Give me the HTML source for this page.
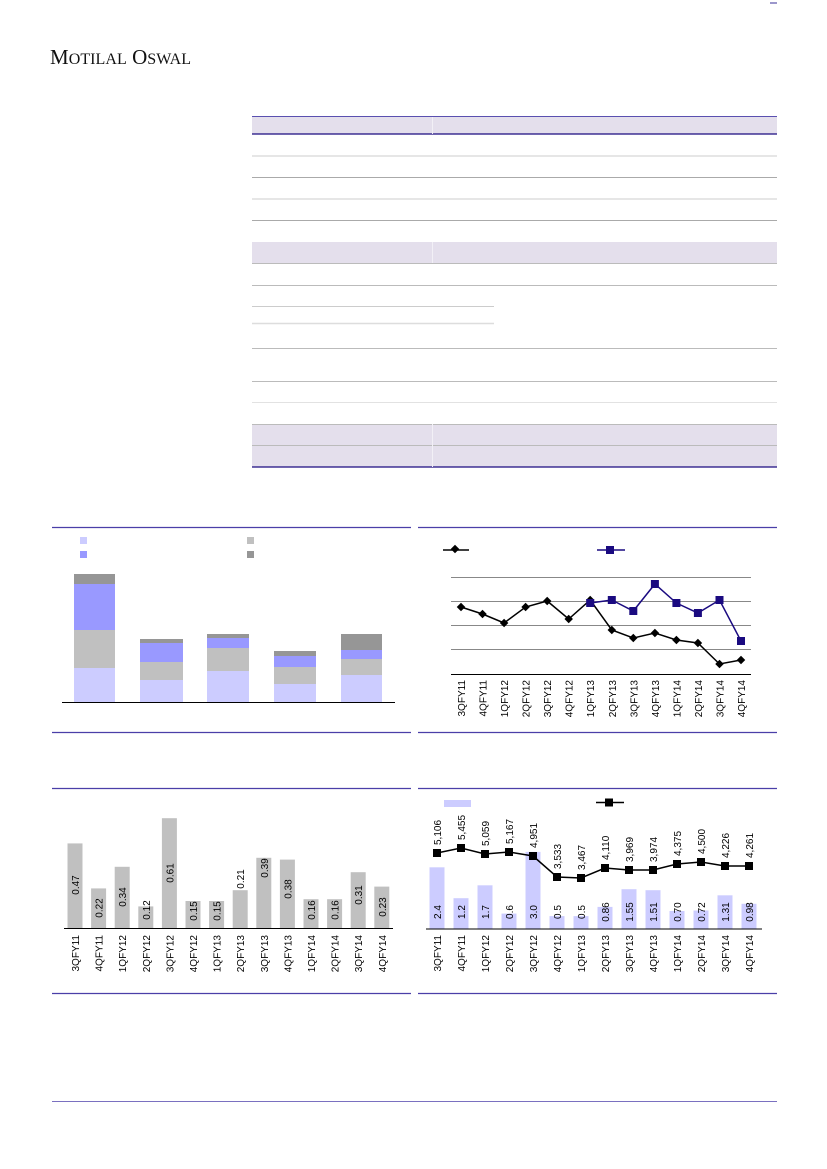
<!DOCTYPE html>
<html><head><meta charset="utf-8"><style>
html,body{margin:0;padding:0;background:#fff}
svg{display:block}
text{font-family:"Liberation Sans",sans-serif}
</style></head><body>
<svg width="827" height="1169" viewBox="0 0 827 1169" xmlns="http://www.w3.org/2000/svg">
<line x1="770" y1="3" x2="777" y2="3" stroke="#3a2f9a" stroke-width="1"/>
<text x="50" y="64" font-size="21" fill="#111" textLength="141" style="font-family:'Liberation Serif',serif">M<tspan font-size="16">OTILAL</tspan> O<tspan font-size="16">SWAL</tspan></text>

<!-- table -->
<g>
<rect x="252" y="117" width="525" height="17" fill="#e4dfec"/>
<line x1="252" y1="116.5" x2="777" y2="116.5" stroke="#5a50b0" stroke-width="1"/>
<line x1="252" y1="134" x2="777" y2="134" stroke="#1a0a80" stroke-width="1.3"/>
<line x1="252" y1="156" x2="777" y2="156" stroke="#ddd" stroke-width="1.5"/>
<line x1="252" y1="177.5" x2="777" y2="177.5" stroke="#aaa" stroke-width="1"/>
<line x1="252" y1="199" x2="777" y2="199" stroke="#ddd" stroke-width="1.5"/>
<line x1="252" y1="220.5" x2="777" y2="220.5" stroke="#aaa" stroke-width="1"/>
<rect x="252" y="242" width="525" height="21" fill="#e4dfec"/>
<line x1="252" y1="263.5" x2="777" y2="263.5" stroke="#bbb" stroke-width="1"/>
<line x1="252" y1="285.5" x2="777" y2="285.5" stroke="#bbb" stroke-width="1"/>
<line x1="252" y1="306.5" x2="494" y2="306.5" stroke="#ccc" stroke-width="1"/>
<line x1="252" y1="323.5" x2="494" y2="323.5" stroke="#ddd" stroke-width="1.5"/>
<line x1="252" y1="348.5" x2="777" y2="348.5" stroke="#bbb" stroke-width="1"/>
<line x1="252" y1="381.5" x2="777" y2="381.5" stroke="#bbb" stroke-width="1"/>
<line x1="252" y1="402.5" x2="777" y2="402.5" stroke="#e2e2e2" stroke-width="1"/>
<rect x="252" y="424" width="525" height="43" fill="#e4dfec"/>
<line x1="252" y1="424.5" x2="777" y2="424.5" stroke="#bbb" stroke-width="1"/>
<line x1="252" y1="445.5" x2="777" y2="445.5" stroke="#bbb" stroke-width="1"/>
<line x1="252" y1="467" x2="777" y2="467" stroke="#1a0a80" stroke-width="1.3"/>
<line x1="432.5" y1="117" x2="432.5" y2="134" stroke="#f2f0f6"/>
<line x1="432.5" y1="242" x2="432.5" y2="263" stroke="#f2f0f6"/>
<line x1="432.5" y1="424" x2="432.5" y2="467" stroke="#f2f0f6"/>
</g>

<!-- frames -->
<g stroke="#4a3fa8" stroke-width="1.2">
<line x1="52" y1="527.5" x2="411" y2="527.5"/><line x1="52" y1="732.5" x2="411" y2="732.5"/>
<line x1="418" y1="527.5" x2="777" y2="527.5"/><line x1="418" y1="732.5" x2="777" y2="732.5"/>
<line x1="52" y1="788.5" x2="411" y2="788.5"/><line x1="52" y1="993.5" x2="411" y2="993.5"/>
<line x1="418" y1="788.5" x2="777" y2="788.5"/><line x1="418" y1="993.5" x2="777" y2="993.5"/>
</g>
<line x1="52" y1="1101.5" x2="777" y2="1101.5" stroke="#7a70c0" stroke-width="1"/>

<!-- chart 1 stacked -->
<rect x="80" y="537" width="7" height="7" fill="#ccccff"/>
<rect x="80" y="551" width="7" height="7" fill="#9999ff"/>
<rect x="247" y="537" width="7" height="7" fill="#c0c0c0"/>
<rect x="247" y="551" width="7" height="7" fill="#969696"/>
<g>
<rect x="74" y="668" width="41" height="34" fill="#ccccff"/><rect x="74" y="630" width="41" height="38" fill="#c0c0c0"/><rect x="74" y="584" width="41" height="46" fill="#9999ff"/><rect x="74" y="574" width="41" height="10" fill="#969696"/>
<rect x="140" y="680" width="43" height="22" fill="#ccccff"/><rect x="140" y="662" width="43" height="18" fill="#c0c0c0"/><rect x="140" y="643" width="43" height="19" fill="#9999ff"/><rect x="140" y="639" width="43" height="4" fill="#969696"/>
<rect x="207" y="671" width="42" height="31" fill="#ccccff"/><rect x="207" y="648" width="42" height="23" fill="#c0c0c0"/><rect x="207" y="638" width="42" height="10" fill="#9999ff"/><rect x="207" y="634" width="42" height="4" fill="#969696"/>
<rect x="274" y="684" width="42" height="18" fill="#ccccff"/><rect x="274" y="667" width="42" height="17" fill="#c0c0c0"/><rect x="274" y="656" width="42" height="11" fill="#9999ff"/><rect x="274" y="651" width="42" height="5" fill="#969696"/>
<rect x="341" y="675" width="41" height="27" fill="#ccccff"/><rect x="341" y="659" width="41" height="16" fill="#c0c0c0"/><rect x="341" y="650" width="41" height="9" fill="#9999ff"/><rect x="341" y="634" width="41" height="16" fill="#969696"/>
</g>
<line x1="62" y1="702.5" x2="395" y2="702.5" stroke="#000" stroke-width="1"/>

<!-- chart 2 lines -->
<line x1="443" y1="550" x2="469" y2="550" stroke="#000" stroke-width="1.5"/>
<rect x="452" y="546" width="6" height="6" transform="rotate(45 455 549)" fill="#000"/>
<line x1="597" y1="550" x2="625" y2="550" stroke="#1a0a80" stroke-width="1.5"/>
<rect x="606" y="546" width="8" height="8" fill="#1a0a80"/>
<g stroke="#888" stroke-width="1">
<line x1="451" y1="577.5" x2="751" y2="577.5"/><line x1="451" y1="601.5" x2="751" y2="601.5"/>
<line x1="451" y1="625.5" x2="751" y2="625.5"/><line x1="451" y1="649.5" x2="751" y2="649.5"/>
</g>
<line x1="451" y1="674.5" x2="751" y2="674.5" stroke="#000" stroke-width="1"/>
<polyline fill="none" stroke="#000" stroke-width="1.5" points="461,607 482.5,614 504.1,623 525.6,607 547.2,601 568.7,619 590.2,600 611.8,630 633.3,638 654.9,633 676.4,640 697.9,643 719.5,664 741,660"/>
<g fill="#000">
<rect x="458" y="604" width="6" height="6" transform="rotate(45 461 607)"/><rect x="479.5" y="611" width="6" height="6" transform="rotate(45 482.5 614)"/><rect x="501.1" y="620" width="6" height="6" transform="rotate(45 504.1 623)"/><rect x="522.6" y="604" width="6" height="6" transform="rotate(45 525.6 607)"/><rect x="544.2" y="598" width="6" height="6" transform="rotate(45 547.2 601)"/><rect x="565.7" y="616" width="6" height="6" transform="rotate(45 568.7 619)"/><rect x="587.2" y="597" width="6" height="6" transform="rotate(45 590.2 600)"/><rect x="608.8" y="627" width="6" height="6" transform="rotate(45 611.8 630)"/><rect x="630.3" y="635" width="6" height="6" transform="rotate(45 633.3 638)"/><rect x="651.9" y="630" width="6" height="6" transform="rotate(45 654.9 633)"/><rect x="673.4" y="637" width="6" height="6" transform="rotate(45 676.4 640)"/><rect x="694.9" y="640" width="6" height="6" transform="rotate(45 697.9 643)"/><rect x="716.5" y="661" width="6" height="6" transform="rotate(45 719.5 664)"/><rect x="738" y="657" width="6" height="6" transform="rotate(45 741 660)"/>
</g>
<polyline fill="none" stroke="#1a0a80" stroke-width="1.5" points="590.2,603 611.8,600 633.3,611 654.9,584 676.4,603 697.9,613 719.5,600 741,641"/>
<g fill="#1a0a80">
<rect x="586.2" y="599" width="8" height="8"/><rect x="607.8" y="596" width="8" height="8"/><rect x="629.3" y="607" width="8" height="8"/><rect x="650.9" y="580" width="8" height="8"/><rect x="672.4" y="599" width="8" height="8"/><rect x="693.9" y="609" width="8" height="8"/><rect x="715.5" y="596" width="8" height="8"/><rect x="737" y="637" width="8" height="8"/>
</g>
<g font-size="10" fill="#000" text-anchor="end">
<text transform="translate(465,680) rotate(-90)">3QFY11</text><text transform="translate(486.5,680) rotate(-90)">4QFY11</text><text transform="translate(508.1,680) rotate(-90)">1QFY12</text><text transform="translate(529.6,680) rotate(-90)">2QFY12</text><text transform="translate(551.2,680) rotate(-90)">3QFY12</text><text transform="translate(572.7,680) rotate(-90)">4QFY12</text><text transform="translate(594.2,680) rotate(-90)">1QFY13</text><text transform="translate(615.8,680) rotate(-90)">2QFY13</text><text transform="translate(637.3,680) rotate(-90)">3QFY13</text><text transform="translate(658.9,680) rotate(-90)">4QFY13</text><text transform="translate(680.4,680) rotate(-90)">1QFY14</text><text transform="translate(701.9,680) rotate(-90)">2QFY14</text><text transform="translate(723.5,680) rotate(-90)">3QFY14</text><text transform="translate(745,680) rotate(-90)">4QFY14</text>
</g>

<!-- chart 3 bars -->
<g fill="#c0c0c0">
<rect x="67.5" y="843.4" width="15" height="84.6"/><rect x="91.1" y="888.4" width="15" height="39.6"/><rect x="114.7" y="866.8" width="15" height="61.2"/><rect x="138.3" y="906.4" width="15" height="21.6"/><rect x="161.9" y="818.2" width="15" height="109.8"/><rect x="185.5" y="901" width="15" height="27"/><rect x="209.1" y="901" width="15" height="27"/><rect x="232.7" y="890.2" width="15" height="37.8"/><rect x="256.3" y="857.8" width="15" height="70.2"/><rect x="279.9" y="859.6" width="15" height="68.4"/><rect x="303.5" y="899.2" width="15" height="28.8"/><rect x="327.1" y="899.2" width="15" height="28.8"/><rect x="350.7" y="872.2" width="15" height="55.8"/><rect x="374.3" y="886.6" width="15" height="41.4"/>
</g>
<line x1="64" y1="928.5" x2="393" y2="928.5" stroke="#000" stroke-width="1"/>
<g font-size="10" fill="#000" text-anchor="middle">
<text transform="translate(79,885) rotate(-90)">0.47</text><text transform="translate(102.6,908) rotate(-90)">0.22</text><text transform="translate(126.2,897) rotate(-90)">0.34</text><text transform="translate(149.8,910) rotate(-90)">0.12</text><text transform="translate(173.4,873) rotate(-90)">0.61</text><text transform="translate(197,911) rotate(-90)">0.15</text><text transform="translate(220.6,911) rotate(-90)">0.15</text><text transform="translate(244.2,879) rotate(-90)">0.21</text><text transform="translate(267.8,868) rotate(-90)">0.39</text><text transform="translate(291.4,889) rotate(-90)">0.38</text><text transform="translate(315,910) rotate(-90)">0.16</text><text transform="translate(338.6,910) rotate(-90)">0.16</text><text transform="translate(362.2,895) rotate(-90)">0.31</text><text transform="translate(385.8,907) rotate(-90)">0.23</text>
</g>
<g font-size="10" fill="#000" text-anchor="end">
<text transform="translate(79,935) rotate(-90)">3QFY11</text><text transform="translate(102.6,935) rotate(-90)">4QFY11</text><text transform="translate(126.2,935) rotate(-90)">1QFY12</text><text transform="translate(149.8,935) rotate(-90)">2QFY12</text><text transform="translate(173.4,935) rotate(-90)">3QFY12</text><text transform="translate(197,935) rotate(-90)">4QFY12</text><text transform="translate(220.6,935) rotate(-90)">1QFY13</text><text transform="translate(244.2,935) rotate(-90)">2QFY13</text><text transform="translate(267.8,935) rotate(-90)">3QFY13</text><text transform="translate(291.4,935) rotate(-90)">4QFY13</text><text transform="translate(315,935) rotate(-90)">1QFY14</text><text transform="translate(338.6,935) rotate(-90)">2QFY14</text><text transform="translate(362.2,935) rotate(-90)">3QFY14</text><text transform="translate(385.8,935) rotate(-90)">4QFY14</text>
</g>

<!-- chart 4 -->
<rect x="444" y="800" width="27" height="7" fill="#ccccff"/>
<line x1="596" y1="802.5" x2="624" y2="802.5" stroke="#000" stroke-width="1.5"/>
<rect x="605" y="798.5" width="8" height="8" fill="#000"/>
<g fill="#ccccff">
<rect x="429.5" y="867.3" width="15" height="61.7"/><rect x="453.5" y="898.2" width="15" height="30.8"/><rect x="477.5" y="885.3" width="15" height="43.7"/><rect x="501.5" y="913.6" width="15" height="15.4"/><rect x="525.5" y="851.9" width="15" height="77.1"/><rect x="549.5" y="916.1" width="15" height="12.9"/><rect x="573.5" y="916.1" width="15" height="12.9"/><rect x="597.5" y="906.9" width="15" height="22.1"/><rect x="621.5" y="889.2" width="15" height="39.8"/><rect x="645.5" y="890.2" width="15" height="38.8"/><rect x="669.5" y="911" width="15" height="18"/><rect x="693.5" y="910.5" width="15" height="18.5"/><rect x="717.5" y="895.3" width="15" height="33.7"/><rect x="741.5" y="903.8" width="15" height="25.2"/>
</g>
<line x1="426" y1="929" x2="762" y2="929" stroke="#000" stroke-width="1"/>
<polyline fill="none" stroke="#000" stroke-width="1.5" points="437,853 461,848 485,854 509,852 533,856 557,877 581,878 605,868 629,870 653,870 677,864 701,862 725,866 749,866"/>
<g fill="#000">
<rect x="433" y="849" width="8" height="8"/><rect x="457" y="844" width="8" height="8"/><rect x="481" y="850" width="8" height="8"/><rect x="505" y="848" width="8" height="8"/><rect x="529" y="852" width="8" height="8"/><rect x="553" y="873" width="8" height="8"/><rect x="577" y="874" width="8" height="8"/><rect x="601" y="864" width="8" height="8"/><rect x="625" y="866" width="8" height="8"/><rect x="649" y="866" width="8" height="8"/><rect x="673" y="860" width="8" height="8"/><rect x="697" y="858" width="8" height="8"/><rect x="721" y="862" width="8" height="8"/><rect x="745" y="862" width="8" height="8"/>
</g>
<g font-size="10" fill="#000" text-anchor="start">
<text transform="translate(441,845) rotate(-90)">5,106</text><text transform="translate(465,840) rotate(-90)">5,455</text><text transform="translate(489,846) rotate(-90)">5,059</text><text transform="translate(513,844) rotate(-90)">5,167</text><text transform="translate(537,848) rotate(-90)">4,951</text><text transform="translate(561,869) rotate(-90)">3,533</text><text transform="translate(585,870) rotate(-90)">3,467</text><text transform="translate(609,860) rotate(-90)">4,110</text><text transform="translate(633,862) rotate(-90)">3,969</text><text transform="translate(657,862) rotate(-90)">3,974</text><text transform="translate(681,856) rotate(-90)">4,375</text><text transform="translate(705,854) rotate(-90)">4,500</text><text transform="translate(729,858) rotate(-90)">4,226</text><text transform="translate(753,858) rotate(-90)">4,261</text>
</g>
<g font-size="10" fill="#000" text-anchor="middle">
<text transform="translate(441,912) rotate(-90)">2.4</text><text transform="translate(465,912) rotate(-90)">1.2</text><text transform="translate(489,912) rotate(-90)">1.7</text><text transform="translate(513,912) rotate(-90)">0.6</text><text transform="translate(537,912) rotate(-90)">3.0</text><text transform="translate(561,912) rotate(-90)">0.5</text><text transform="translate(585,912) rotate(-90)">0.5</text><text transform="translate(609,912) rotate(-90)">0.86</text><text transform="translate(633,912) rotate(-90)">1.55</text><text transform="translate(657,912) rotate(-90)">1.51</text><text transform="translate(681,912) rotate(-90)">0.70</text><text transform="translate(705,912) rotate(-90)">0.72</text><text transform="translate(729,912) rotate(-90)">1.31</text><text transform="translate(753,912) rotate(-90)">0.98</text>
</g>
<g font-size="10" fill="#000" text-anchor="end">
<text transform="translate(441,935) rotate(-90)">3QFY11</text><text transform="translate(465,935) rotate(-90)">4QFY11</text><text transform="translate(489,935) rotate(-90)">1QFY12</text><text transform="translate(513,935) rotate(-90)">2QFY12</text><text transform="translate(537,935) rotate(-90)">3QFY12</text><text transform="translate(561,935) rotate(-90)">4QFY12</text><text transform="translate(585,935) rotate(-90)">1QFY13</text><text transform="translate(609,935) rotate(-90)">2QFY13</text><text transform="translate(633,935) rotate(-90)">3QFY13</text><text transform="translate(657,935) rotate(-90)">4QFY13</text><text transform="translate(681,935) rotate(-90)">1QFY14</text><text transform="translate(705,935) rotate(-90)">2QFY14</text><text transform="translate(729,935) rotate(-90)">3QFY14</text><text transform="translate(753,935) rotate(-90)">4QFY14</text>
</g>
</svg>
</body></html>
